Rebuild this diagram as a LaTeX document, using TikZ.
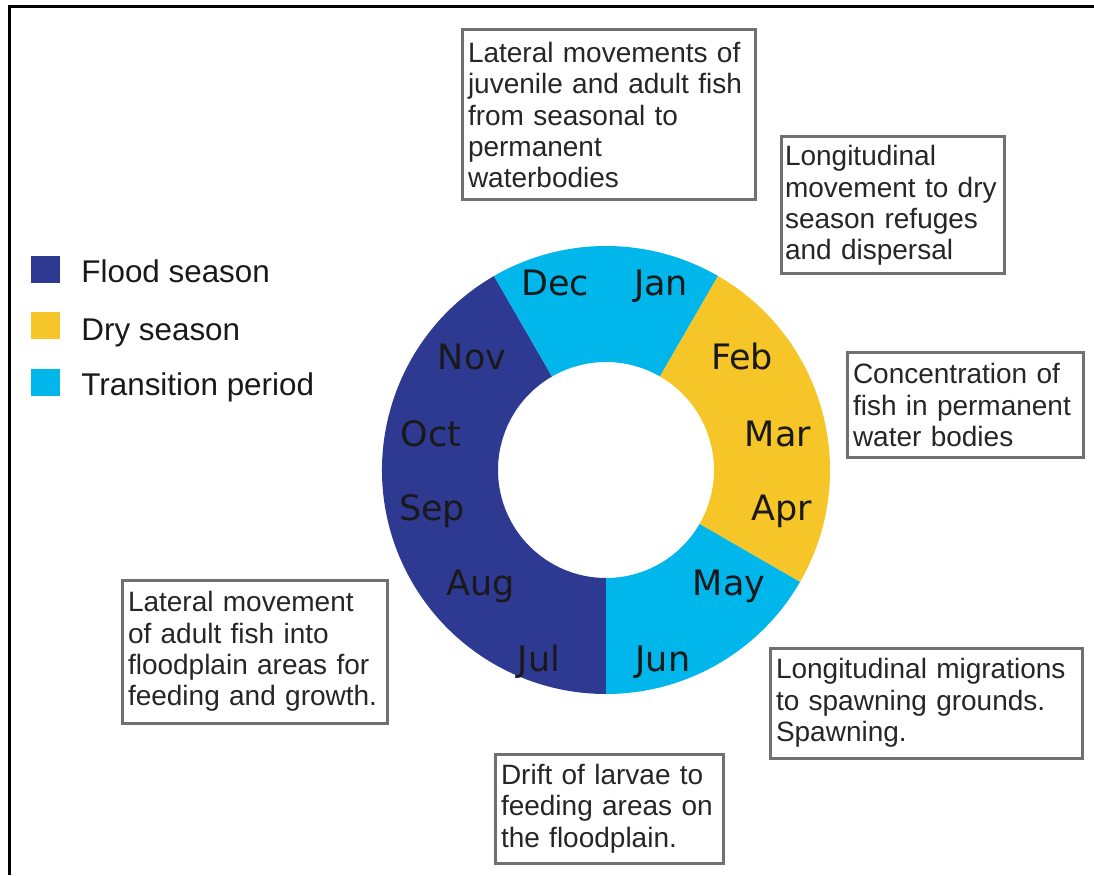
\documentclass[tikz,border=0pt]{standalone}
\usepackage{fontspec}
\setmainfont{Liberation Sans}
\newfontfamily\monthfont{DejaVu Sans}
\definecolor{floodblue}{RGB}{46,57,146}
\definecolor{dryyellow}{RGB}{246,197,39}
\definecolor{transblue}{RGB}{0,182,235}
\definecolor{boxgray}{RGB}{112,112,112}

\begin{document}
\begin{tikzpicture}[x=0.5pt, y=0.5pt,
    infobox/.style={draw=boxgray, line width=1.5pt, fill=white, align=left, inner xsep=3pt, inner ysep=3pt,
      font=\fontsize{14pt}{15.7pt}\selectfont, text=black!85},
    month/.style={anchor=base, font=\monthfont\fontsize{17.5pt}{20pt}\selectfont, text=black!90},
    legendbox/.style={minimum width=14.5pt, minimum height=13.5pt, inner sep=0pt},
    legendtext/.style={anchor=base west, inner xsep=0pt, font=\fontsize{15.7pt}{18pt}\selectfont, text=black!90}]
  \useasboundingbox (0,0) rectangle (1094,875);
  % frame
  \draw[line width=1.5pt] (9.5,0) -- (9.5,868) -- (1094,868);

  % ring of the year
  \coordinate (c) at (606,405);
  \fill[floodblue] (c) ++(120:224) arc[start angle=120, end angle=270, radius=224] -- ++(270:-116) arc[start angle=270, end angle=120, radius=108] -- cycle;
  \fill[transblue] (c) ++(60:224) arc[start angle=60, end angle=120, radius=224] -- ++(120:-116) arc[start angle=120, end angle=60, radius=108] -- cycle;
  \fill[dryyellow] (c) ++(-30:224) arc[start angle=-30, end angle=60, radius=224] -- ++(60:-116) arc[start angle=60, end angle=-30, radius=108] -- cycle;
  \fill[transblue] (c) ++(270:224) arc[start angle=270, end angle=330, radius=224] -- ++(330:-116) arc[start angle=330, end angle=270, radius=108] -- cycle;

  \node[month] (dec) at (555,580) {Dec};
  \node[month] (jan) at (661,580) {Jan};
  \node[month] (feb) at (742,505) {Feb};
  \node[month] (mar) at (778,429) {Mar};
  \node[month] (apr) at (782,355) {Apr};
  \node[month] (may) at (729,280) {May};
  \node[month] (jun) at (663,204) {Jun};
  \node[month] (jul) at (539,204) {Jul};
  \node[month] (aug) at (481,280) {Aug};
  \node[month] (sep) at (432,355) {Sep};
  \node[month] (oct) at (431,429) {Oct};
  \node[month] (nov) at (472,505) {Nov};

  % legend
  \node[legendbox, fill=floodblue] (floodkey) at (45,605) {};
  \node[legendtext] (floodlabel) at (81,592) {Flood season};
  \node[legendbox, fill=dryyellow] (drykey) at (45,549) {};
  \node[legendtext] (drylabel) at (81,535) {Dry season};
  \node[legendbox, fill=transblue] (transkey) at (45,493) {};
  \node[legendtext] (translabel) at (81,480) {Transition period};

  % migration notes
  \node[infobox, text width=140.5pt, minimum height=85pt] (lateraljuv) at (608.5,760)
    {Lateral movements of\\juvenile and adult fish\\from seasonal to\\permanent\\waterbodies};
  \node[infobox, inner xsep=2pt, text width=107.5pt, minimum height=68.5pt] (longdry) at (892.5,669.5)
    {Longitudinal\\movement to dry\\season refuges\\and dispersal};
  \node[infobox, text width=112pt, minimum height=52pt] (concentr) at (965,470)
    {Concentration of\\fish in permanent\\water bodies};
  \node[infobox, text width=126.5pt, minimum height=71.5pt] (lateraladult) at (254.5,223.5)
    {Lateral movement\\of adult fish into\\floodplain areas for\\feeding and growth.};
  \node[infobox, text width=150pt, minimum height=55pt] (longspawn) at (926,172)
    {Longitudinal migrations\\to spawning grounds.\\Spawning.};
  \node[infobox, text width=108pt, minimum height=54.5pt] (larvae) at (609,66.5)
    {Drift of larvae to\\feeding areas on\\the floodplain.};
\end{tikzpicture}
\end{document}
